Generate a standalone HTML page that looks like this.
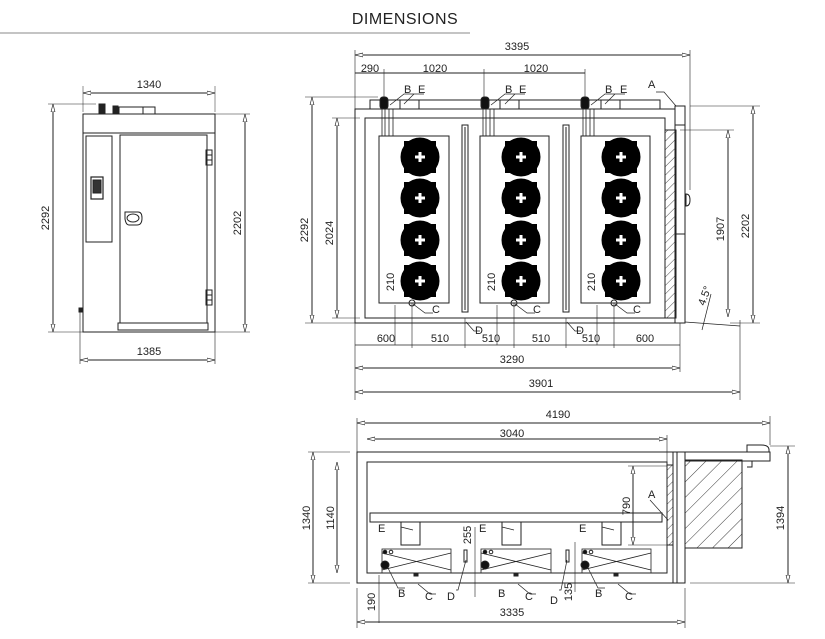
<!DOCTYPE html>
<html><head><meta charset="utf-8"><style>
html,body{margin:0;padding:0;background:#fff;}
svg{display:block;}
text{font-family:"Liberation Sans",sans-serif;font-size:11px;fill:#222;}
</style></head><body>
<svg width="825" height="639" viewBox="0 0 825 639" xmlns="http://www.w3.org/2000/svg">
<defs>
<marker id="a" viewBox="0 0 10 6" refX="10" refY="3" markerWidth="8" markerHeight="5" orient="auto-start-reverse" markerUnits="userSpaceOnUse"><path d="M0,0.5 L10,3 L0,5.5 Z" fill="#fff" stroke="#222" stroke-width="0.8"/></marker>
<pattern id="h" width="6" height="6" patternUnits="userSpaceOnUse" patternTransform="rotate(45)"><line x1="0" y1="0" x2="0" y2="6" stroke="#222" stroke-width="0.8"/></pattern>
<pattern id="h2" width="11" height="11" patternUnits="userSpaceOnUse" patternTransform="rotate(45)"><line x1="0" y1="0" x2="0" y2="11" stroke="#222" stroke-width="0.9"/></pattern>
<g id="fan"><circle r="19.5" fill="#000"/><rect x="-16" y="-16" width="5" height="5" fill="#000"/><rect x="11" y="-16" width="5" height="5" fill="#000"/><rect x="-16" y="11" width="5" height="5" fill="#000"/><rect x="11" y="11" width="5" height="5" fill="#000"/><path d="M-1.5,-5h3v3.5h3.5v3h-3.5v3.5h-3v-3.5h-3.5v-3h3.5z" fill="#fff"/></g>
</defs>
<g fill="none" stroke="#222" stroke-width="1">
<line x1="0" y1="33" x2="470" y2="33" stroke="#888"/>

<line x1="83" y1="93" x2="215" y2="93" marker-start="url(#a)" marker-end="url(#a)"/>
<line x1="83" y1="86" x2="83" y2="112" stroke-width="0.5"/><line x1="215" y1="86" x2="215" y2="112" stroke-width="0.5"/>
<rect x="83" y="114" width="132" height="218"/>
<line x1="83" y1="133" x2="215" y2="133"/>
<rect x="99" y="104" width="6" height="10" fill="#222"/><rect x="113" y="106" width="5" height="8" fill="#222"/>
<rect x="119" y="107" width="24" height="7"/><rect x="143" y="107" width="12" height="7"/>
<rect x="86" y="136" width="26" height="106"/>
<rect x="91" y="177" width="12" height="22" stroke-width="1.2"/><rect x="93" y="180" width="8" height="13" fill="#333"/>
<rect x="120" y="135" width="87" height="188"/>
<rect x="118" y="323" width="90" height="7"/>
<rect x="206" y="150" width="6" height="15"/><line x1="206" y1="155" x2="212" y2="155"/><line x1="206" y1="160" x2="212" y2="160"/>
<rect x="206" y="290" width="6" height="15"/><line x1="206" y1="295" x2="212" y2="295"/><line x1="206" y1="300" x2="212" y2="300"/>
<path d="M125,212 h13 q4,0 4,6 q0,7 -5,7 h-8 q-3,0 -4,-6 q0,-7 0,-7z"/><ellipse cx="133" cy="218" rx="6" ry="4"/>
<rect x="79" y="308" width="3" height="4" fill="#222"/><line x1="80" y1="312" x2="80" y2="364" stroke-width="0.6"/>
<line x1="53" y1="104" x2="53" y2="332" marker-start="url(#a)" marker-end="url(#a)"/>
<line x1="48" y1="104" x2="96" y2="104" stroke-width="0.6"/><line x1="48" y1="332" x2="83" y2="332" stroke-width="0.6"/>
<line x1="245" y1="114" x2="245" y2="332" marker-start="url(#a)" marker-end="url(#a)"/>
<line x1="215" y1="114" x2="250" y2="114" stroke-width="0.6"/><line x1="215" y1="332" x2="250" y2="332" stroke-width="0.6"/>
<line x1="80" y1="360" x2="215" y2="360" marker-start="url(#a)" marker-end="url(#a)"/>
<line x1="215" y1="332" x2="215" y2="364" stroke-width="0.6"/>

<line x1="355" y1="55" x2="690" y2="55" marker-start="url(#a)" marker-end="url(#a)"/>
<line x1="355" y1="50" x2="355" y2="400" stroke-width="0.6"/>
<line x1="690" y1="50" x2="690" y2="190" stroke-width="0.6"/>
<line x1="355" y1="73" x2="384" y2="73"/><line x1="384" y1="73" x2="484" y2="73"/><line x1="484" y1="73" x2="585" y2="73"/>
<line x1="384" y1="69" x2="384" y2="100" stroke-width="0.6"/><line x1="484" y1="69" x2="484" y2="100" stroke-width="0.6"/><line x1="585" y1="69" x2="585" y2="100" stroke-width="0.6"/>
<rect x="355" y="109" width="320" height="214"/>
<rect x="365" y="118" width="300" height="200"/>
<rect x="370" y="100" width="290" height="9"/>
<line x1="400" y1="100" x2="400" y2="109"/><line x1="419" y1="100" x2="419" y2="109"/>
<line x1="500" y1="100" x2="500" y2="109"/><line x1="519" y1="100" x2="519" y2="109"/>
<line x1="601" y1="100" x2="601" y2="109"/><line x1="620" y1="100" x2="620" y2="109"/>
<rect x="380" y="97" width="8" height="12" rx="3" fill="#111"/>
<rect x="481" y="97" width="8" height="12" rx="3" fill="#111"/>
<rect x="581" y="97" width="8" height="12" rx="3" fill="#111"/>
<path d="M382,109v27M385,109v27M389,109v27M393,109v27M483,109v27M486,109v27M490,109v27M494,109v27M583,109v27M586,109v27M590,109v27M594,109v27" stroke-width="0.8"/>
<rect x="379" y="136" width="70" height="167"/><rect x="480" y="136" width="69" height="167"/><rect x="581" y="136" width="69" height="167"/>
<rect x="462" y="125" width="6" height="187"/><line x1="465" y1="127" x2="465" y2="310"/>
<rect x="563" y="125" width="6" height="187"/><line x1="566" y1="127" x2="566" y2="310"/>
<rect x="665" y="130" width="11" height="188" fill="url(#h)"/>
<rect x="675" y="106" width="10" height="217"/><line x1="675" y1="125" x2="685" y2="125"/><line x1="675" y1="234" x2="685" y2="234"/>
<path d="M686,194 q4,0 4,6 q0,6 -4,6z"/>
<line x1="685" y1="322" x2="740" y2="326" stroke-width="0.7"/>
<line x1="312" y1="97" x2="312" y2="323" marker-start="url(#a)" marker-end="url(#a)"/>
<line x1="305" y1="97" x2="378" y2="97" stroke-width="0.6"/><line x1="305" y1="323" x2="355" y2="323" stroke-width="0.6"/>
<line x1="337" y1="118" x2="337" y2="318" marker-start="url(#a)" marker-end="url(#a)"/>
<line x1="332" y1="118" x2="360" y2="118" stroke-width="0.6"/><line x1="332" y1="318" x2="360" y2="318" stroke-width="0.6"/>
<line x1="728" y1="130" x2="728" y2="317" marker-start="url(#a)" marker-end="url(#a)"/>
<line x1="680" y1="130" x2="734" y2="130" stroke-width="0.6"/>
<line x1="753" y1="106" x2="753" y2="323" marker-start="url(#a)" marker-end="url(#a)"/>
<line x1="690" y1="106" x2="760" y2="106" stroke-width="0.6"/><line x1="730" y1="323" x2="760" y2="323" stroke-width="0.6"/>
<line x1="740" y1="320" x2="740" y2="400" stroke-width="0.6"/>
<path d="M702,330 l9,-36" stroke-width="0.7"/>
<path d="M395,305v40M412,303v45M497,305v40M514,303v45M597,305v40M614,303v45M465,318v30M566,318v30" stroke-width="0.6"/>
<line x1="355" y1="345" x2="680" y2="345" stroke-width="0.8"/>
<line x1="355" y1="368" x2="680" y2="368" marker-start="url(#a)" marker-end="url(#a)"/>
<line x1="355" y1="392" x2="740" y2="392" marker-start="url(#a)" marker-end="url(#a)"/>
<line x1="680" y1="323" x2="680" y2="372" stroke-width="0.6"/>
<circle cx="412" cy="303" r="3"/><circle cx="514" cy="303" r="3"/><circle cx="614" cy="303" r="3"/>
<path d="M413,304l12,9h8M515,304l12,9h8M615,304l12,9h8M466,322l8,9h6M567,322l8,9h6" stroke-width="0.7"/>
<path d="M390,105l14,-11h10M404,104l10,-10h10M491,105l14,-11h10M505,104l10,-10h10M591,105l14,-11h10M605,104l10,-10h10M676,106l-12,-14h-8" stroke-width="0.7"/>

<line x1="357" y1="423" x2="770" y2="423" marker-start="url(#a)" marker-end="url(#a)"/>
<line x1="770" y1="416" x2="770" y2="445" stroke-width="0.6"/>
<line x1="367" y1="439" x2="667" y2="439" marker-start="url(#a)" marker-end="url(#a)"/>
<line x1="357" y1="418" x2="357" y2="452" stroke-width="0.6"/><line x1="667" y1="435" x2="667" y2="462" stroke-width="0.6"/>
<rect x="357" y="452" width="328" height="131"/>
<rect x="367" y="462" width="300" height="111"/>
<line x1="673" y1="452" x2="673" y2="583"/><line x1="677" y1="452" x2="677" y2="583"/>
<rect x="667" y="465" width="6" height="80" fill="url(#h)"/>
<rect x="685" y="460" width="57" height="88" fill="url(#h2)"/>
<rect x="685" y="452" width="85" height="9"/>
<path d="M747,452 v-7 h14 q8,0 8,5 v2z"/><path d="M752,461 v6 h-5"/>
<rect x="370" y="513" width="292" height="9"/>
<rect x="401" y="522" width="19" height="23"/><rect x="502" y="522" width="19" height="23"/><rect x="602" y="522" width="19" height="23"/>
<g stroke-width="0.8">
<rect x="382" y="549" width="69" height="24"/><path d="M382,553L451,570M382,570L451,553"/>
<rect x="481" y="549" width="70" height="24"/><path d="M481,553L551,570M481,570L551,553"/>
<rect x="582" y="549" width="69" height="24"/><path d="M582,553L651,570M582,570L651,553"/>
</g>
<circle cx="385" cy="565" r="4" fill="#111"/><circle cx="485" cy="565" r="4" fill="#111"/><circle cx="585" cy="565" r="4" fill="#111"/>
<circle cx="385" cy="552" r="1.8" fill="#111"/><circle cx="391" cy="552" r="1.8"/><circle cx="485" cy="552" r="1.8" fill="#111"/><circle cx="491" cy="552" r="1.8"/><circle cx="585" cy="552" r="1.8" fill="#111"/><circle cx="591" cy="552" r="1.8"/>
<rect x="414" y="573" width="4" height="3" fill="#222"/><rect x="514" y="573" width="4" height="3" fill="#222"/><rect x="614" y="573" width="4" height="3" fill="#222"/>
<rect x="464" y="550" width="3" height="12"/><rect x="566" y="550" width="3" height="12"/>
<path d="M379,575v48M475,527v70M575,542v50" stroke-width="0.6"/>
<path d="M388,568l10,20h7M418,584l12,10h6M466,560l-8,30h-2M567,560l-6,30h-2M588,568l10,20h7M518,584l12,10h6M618,584l12,10h6M401,527l12,3M502,527l12,3M602,527l12,3M650,500l18,20" stroke-width="0.7"/>
<line x1="313" y1="452" x2="313" y2="583" marker-start="url(#a)" marker-end="url(#a)"/>
<line x1="308" y1="452" x2="350" y2="452" stroke-width="0.6"/><line x1="308" y1="583" x2="350" y2="583" stroke-width="0.6"/>
<line x1="337" y1="462" x2="337" y2="573" marker-start="url(#a)" marker-end="url(#a)"/>
<line x1="633" y1="466" x2="633" y2="545" marker-start="url(#a)" marker-end="url(#a)"/>
<line x1="628" y1="466" x2="667" y2="466" stroke-width="0.6"/><line x1="628" y1="545" x2="667" y2="545" stroke-width="0.6"/>
<line x1="788" y1="446" x2="788" y2="583" marker-start="url(#a)" marker-end="url(#a)"/>
<line x1="770" y1="446" x2="795" y2="446" stroke-width="0.6"/><line x1="690" y1="583" x2="795" y2="583" stroke-width="0.6"/>
<line x1="357" y1="622" x2="685" y2="622" marker-start="url(#a)" marker-end="url(#a)"/>
<line x1="357" y1="588" x2="357" y2="628" stroke-width="0.6"/><line x1="685" y1="588" x2="685" y2="628" stroke-width="0.6"/>
</g>
<g fill="#000">
<use href="#fan" x="420" y="157"/><use href="#fan" x="420" y="198"/><use href="#fan" x="420" y="240"/><use href="#fan" x="420" y="281"/>
<use href="#fan" x="521" y="157"/><use href="#fan" x="521" y="198"/><use href="#fan" x="521" y="240"/><use href="#fan" x="521" y="281"/>
<use href="#fan" x="621" y="157"/><use href="#fan" x="621" y="198"/><use href="#fan" x="621" y="240"/><use href="#fan" x="621" y="281"/>
</g>
<text x="405" y="24" text-anchor="middle" style="font-size:16px;letter-spacing:0.5px">DIMENSIONS</text>
<text x="149" y="88" text-anchor="middle">1340</text>
<text x="149" y="355" text-anchor="middle">1385</text>
<text transform="translate(49,218) rotate(-90)" text-anchor="middle">2292</text>
<text transform="translate(241,223) rotate(-90)" text-anchor="middle">2202</text>
<text x="517" y="50" text-anchor="middle">3395</text>
<text x="370" y="72" text-anchor="middle">290</text>
<text x="435" y="72" text-anchor="middle">1020</text>
<text x="536" y="72" text-anchor="middle">1020</text>
<text x="404" y="93">B</text><text x="418" y="93">E</text>
<text x="505" y="93">B</text><text x="519" y="93">E</text>
<text x="605" y="93">B</text><text x="620" y="93">E</text>
<text x="648" y="88">A</text>
<text transform="translate(308,230) rotate(-90)" text-anchor="middle">2292</text>
<text transform="translate(333,233) rotate(-90)" text-anchor="middle">2024</text>
<text transform="translate(724,229) rotate(-90)" text-anchor="middle">1907</text>
<text transform="translate(749,226) rotate(-90)" text-anchor="middle">2202</text>
<text transform="translate(708,297) rotate(-70)" text-anchor="middle">4.5°</text>
<text transform="translate(394,282) rotate(-90)" text-anchor="middle">210</text>
<text transform="translate(495,282) rotate(-90)" text-anchor="middle">210</text>
<text transform="translate(595,282) rotate(-90)" text-anchor="middle">210</text>
<text x="432" y="313">C</text><text x="533" y="313">C</text><text x="633" y="313">C</text>
<text x="475" y="334">D</text><text x="576" y="334">D</text>
<text x="386" y="342" text-anchor="middle">600</text>
<text x="440" y="342" text-anchor="middle">510</text>
<text x="491" y="342" text-anchor="middle">510</text>
<text x="541" y="342" text-anchor="middle">510</text>
<text x="591" y="342" text-anchor="middle">510</text>
<text x="645" y="342" text-anchor="middle">600</text>
<text x="512" y="363" text-anchor="middle">3290</text>
<text x="541" y="387" text-anchor="middle">3901</text>
<text x="558" y="418" text-anchor="middle">4190</text>
<text x="512" y="437" text-anchor="middle">3040</text>
<text transform="translate(310,518) rotate(-90)" text-anchor="middle">1340</text>
<text transform="translate(334,518) rotate(-90)" text-anchor="middle">1140</text>
<text transform="translate(630,506) rotate(-90)" text-anchor="middle">790</text>
<text transform="translate(784,518) rotate(-90)" text-anchor="middle">1394</text>
<text transform="translate(471,535) rotate(-90)" text-anchor="middle">255</text>
<text transform="translate(572,592) rotate(-90)" text-anchor="middle">135</text>
<text transform="translate(375,602) rotate(-90)" text-anchor="middle">190</text>
<text x="648" y="498">A</text>
<text x="378" y="532">E</text><text x="479" y="532">E</text><text x="579" y="532">E</text>
<text x="398" y="597">B</text><text x="425" y="600">C</text><text x="447" y="600">D</text>
<text x="498" y="597">B</text><text x="525" y="600">C</text><text x="550" y="604">D</text>
<text x="595" y="597">B</text><text x="625" y="600">C</text>
<text x="512" y="616" text-anchor="middle">3335</text>
</svg>
</body></html>
